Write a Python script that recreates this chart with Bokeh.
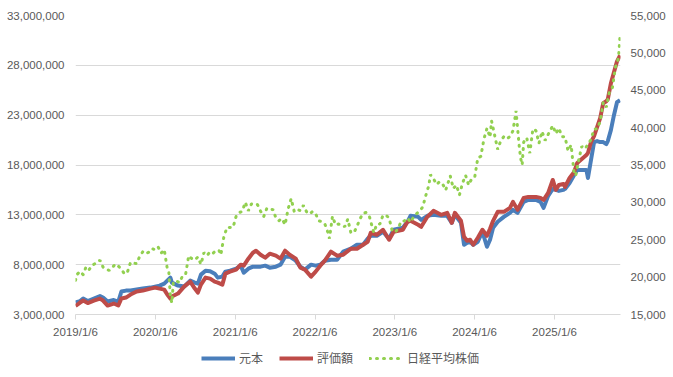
import datetime as dt
from bokeh.plotting import figure
from bokeh.layouts import column
from bokeh.models import (Range1d, LinearAxis, FixedTicker, CustomJSTickFormatter,
                          NumeralTickFormatter, Legend, LegendItem)
from bokeh.embed import file_html
from bokeh.resources import INLINE

START = dt.datetime(2019, 1, 6)

# weeks since 2019/1/6 for the two fund series
fund_weeks = [0, 3, 5, 8, 12, 16, 18, 21, 25, 28, 30, 33, 36, 40, 44, 49, 52, 55, 58, 60,
              62, 63, 67, 71, 75, 78, 80, 82, 85, 88, 91, 93, 96, 98, 101, 105, 108, 110, 113, 116,
              118, 121, 124, 127, 131, 134, 137, 140, 144, 147, 150, 154, 157, 160, 163, 167, 171, 175, 180, 184,
              188, 191, 193, 197, 201, 205, 208, 214, 217, 219, 224, 226, 230, 234, 239, 243, 246, 248, 252, 254,
              256, 258, 260, 263, 266, 269, 271, 273, 276, 280, 284, 286, 289, 293, 296, 301, 304, 306, 309, 312,
              314, 316, 319, 320, 323, 326, 328, 331, 334, 335, 337, 339, 341, 343, 345, 347, 348, 350, 352, 354,
              356]
principal_m = [4.2, 4.35, 4.6, 4.35, 4.6, 4.85, 4.7, 4.3, 4.45, 4.3, 5.3, 5.4, 5.4, 5.5, 5.6, 5.7, 5.8, 5.9, 6.1, 6.4,
               6.7, 6.2, 5.9, 5.8, 6.4, 6.2, 6.1, 7.0, 7.4, 7.35, 7.1, 6.7, 6.8, 7.3, 7.4, 7.6, 7.9, 7.2, 7.6, 7.8,
               7.8, 7.8, 7.9, 7.7, 7.8, 8.0, 8.8, 8.8, 8.4, 7.8, 7.5, 8.0, 7.9, 8.0, 8.4, 8.5, 8.5, 9.3, 9.6, 10.0,
               10.0, 10.6, 10.9, 10.9, 11.3, 10.6, 11.5, 11.7, 12.3, 12.9, 12.8, 12.5, 12.9, 13.0, 12.9, 12.9, 12.2, 13.0, 12.2, 10.0,
               10.2, 10.3, 10.0, 10.3, 11.3, 9.8, 10.5, 11.7, 12.3, 12.8, 13.2, 13.5, 13.2, 14.3, 14.5, 14.5, 14.3, 13.7, 14.9, 15.6,
               15.5, 15.4, 15.5, 15.6, 16.2, 17.0, 17.5, 17.5, 17.5, 16.7, 18.5, 20.3, 20.4, 20.3, 20.3, 20.1, 20.4, 21.5, 23.0, 24.3,
               24.5]
valuation_m = [3.85, 4.2, 4.4, 4.15, 4.4, 4.6, 4.4, 3.9, 4.1, 3.9, 4.6, 4.7, 5.0, 5.3, 5.4, 5.6, 5.7, 5.6, 5.5, 5.0,
               4.6, 4.8, 5.1, 5.8, 6.3, 5.6, 5.2, 6.0, 6.7, 6.6, 6.3, 6.2, 6.0, 7.1, 7.3, 7.5, 8.0, 7.9, 8.6, 9.2,
               9.4, 9.0, 8.7, 9.1, 8.9, 8.6, 9.4, 9.0, 8.6, 7.7, 7.5, 6.8, 7.3, 7.9, 8.4, 9.3, 8.9, 9.0, 9.6, 9.6,
               10.0, 10.3, 11.2, 11.0, 11.5, 10.5, 11.3, 11.5, 12.3, 12.4, 12.0, 11.8, 12.8, 13.4, 13.0, 13.2, 12.2, 13.2, 12.4, 10.8,
               10.4, 10.5, 10.0, 10.7, 11.5, 10.9, 11.6, 12.4, 13.3, 13.3, 13.7, 14.3, 13.5, 14.7, 14.8, 14.8, 14.7, 14.5, 15.2, 16.5,
               15.5, 16.0, 16.1, 15.8, 16.7, 17.3, 18.2, 18.6, 19.0, 19.2, 20.3, 20.9, 21.8, 22.7, 24.2, 24.4, 24.6, 26.2, 27.3, 28.4,
               29.0]

nikkei_weeks = [0, 1, 3, 5, 7, 9, 11, 13, 16, 18, 20, 22, 24, 26, 28, 30, 32, 34, 36, 38,
                40, 42, 44, 46, 48, 50, 52, 54, 56, 58, 60, 61, 62, 63, 64, 66, 68, 70, 72, 74,
                76, 78, 80, 82, 84, 86, 88, 90, 92, 94, 95, 97, 99, 101, 103, 105, 107, 109, 111, 113,
                115, 117, 119, 121, 123, 125, 127, 129, 131, 133, 135, 137, 139, 141, 143, 145, 147, 149, 151, 153,
                155, 157, 159, 161, 163, 165, 166, 168, 170, 172, 174, 176, 178, 180, 182, 184, 186, 188, 190, 192,
                195, 197, 199, 201, 203, 205, 207, 209, 211, 213, 215, 217, 219, 221, 223, 225, 227, 229, 231, 232,
                234, 236, 238, 240, 242, 245, 247, 249, 251, 253, 255, 257, 259, 261, 263, 265, 267, 269, 271, 272,
                274, 276, 278, 280, 282, 284, 286, 288, 290, 291, 292, 293, 295, 297, 299, 301, 303, 305, 307, 309,
                312, 314, 316, 318, 320, 322, 324, 326, 327, 329, 331, 333, 335, 337, 339, 341, 343, 345, 347, 349,
                351, 353, 355, 356]
nikkei = [19561, 20359, 20773, 20333, 21425, 21025, 21627, 21807, 22258, 21344, 21117, 20884, 21258, 21746, 21466, 21087, 20418, 20704, 21988, 21879,
          21798, 22800, 23391, 23113, 23354, 23816, 23656, 24041, 23205, 23688, 21142, 20749, 17431, 16552, 19389, 19498, 19262, 20179, 20388, 22863,
          22478, 22306, 22696, 21710, 23289, 22882, 23406, 23205, 23620, 23517, 22977, 25385, 26644, 26652, 26656, 28139, 28631, 28779, 30018, 28864,
          29792, 29854, 29683, 28813, 28084, 29149, 28948, 29066, 27940, 27548, 27820, 27013, 29128, 30500, 28771, 29068, 28892, 29609, 28751, 28437,
          28782, 28478, 27522, 27439, 27122, 25985, 25162, 28149, 26985, 27105, 27003, 26739, 27761, 25963, 25935, 26788, 27801, 28546, 28641, 28214,
          25937, 27090, 27105, 28263, 28283, 27901, 26235, 25973, 26553, 27509, 27513, 27927, 27333, 28041, 28493, 28856, 29388, 30916, 32265, 33706,
          33189, 32391, 32759, 32473, 31624, 33533, 31857, 32315, 30991, 32568, 33625, 32307, 33169, 33377, 35963, 36158, 38487, 39910, 38707, 40888,
          38992, 37068, 38236, 38787, 38487, 38814, 39583, 42224, 37667, 35909, 35025, 38062, 38647, 36581, 39829, 39605, 37913, 39500, 38283, 39091,
          40281, 39190, 39931, 38787, 38776, 36887, 37677, 33781, 33586, 35705, 37503, 37160, 37741, 38403, 39811, 39819, 40800, 43378, 42718, 44768,
          45354, 48088, 49299, 52411]

series_names = ["元本", "評価額", "日経平均株価"]

left_ticks = [3000000, 8000000, 13000000, 18000000, 23000000, 28000000, 33000000]
right_ticks = [15000, 20000, 25000, 30000, 35000, 40000, 45000, 50000, 55000]
year_ticks = [dt.datetime(y, 1, 6) for y in range(2019, 2026)]

fund_dates = [START + dt.timedelta(weeks=w) for w in fund_weeks]
nikkei_dates = [START + dt.timedelta(weeks=w) for w in nikkei_weeks]
principal = [v * 1e6 for v in principal_m]
valuation = [v * 1e6 for v in valuation_m]

def ms(d):
    return (d - dt.datetime(1970, 1, 1)).total_seconds() * 1000.0

FONT = "Liberation Sans"
GRAY = "#595959"
GRID = "#D9D9D9"
BLUE = "#4A7EBB"
RED = "#BE4B48"
GREEN = "#92D050"

p = figure(frame_width=545, frame_height=299, x_axis_type="datetime",
           x_range=Range1d(START, nikkei_dates[-1] + dt.timedelta(days=2)),
           y_range=Range1d(3000000, 33000000),
           output_backend="svg", toolbar_location=None,
           min_border_left=75, min_border_right=50, min_border_top=15, min_border_bottom=0)
p.outline_line_color = None
p.background_fill_color = "white"
p.border_fill_color = "white"
p.extra_y_ranges = {"nk": Range1d(15000, 55000)}

p.xgrid.grid_line_color = None
p.ygrid.grid_line_color = GRID
p.ygrid.grid_line_width = 1

# bottom axis
xa = p.xaxis[0]
xa.axis_label = None
xa.ticker = FixedTicker(ticks=[ms(d) for d in year_ticks])
xa.formatter = CustomJSTickFormatter(code="""
const d = new Date(tick);
return d.getUTCFullYear() + "/" + (d.getUTCMonth() + 1) + "/" + d.getUTCDate();
""")
xa.axis_line_color = GRID
xa.major_tick_line_color = GRID
xa.major_tick_out = 5
xa.major_tick_in = 0
xa.minor_tick_line_color = None
xa.major_label_standoff = 6
xa.major_label_text_font = FONT
xa.major_label_text_font_size = "11.5px"
xa.major_label_text_color = GRAY

# left axis
ya = p.yaxis[0]
ya.axis_label = None
ya.ticker = FixedTicker(ticks=left_ticks)
ya.formatter = NumeralTickFormatter(format="0,0")
ya.axis_line_color = None
ya.major_tick_line_color = None
ya.minor_tick_line_color = None
ya.major_tick_out = 0
ya.major_tick_in = 0
ya.major_label_standoff = 11
ya.major_label_text_font = FONT
ya.major_label_text_font_size = "11.5px"
ya.major_label_text_color = GRAY

# right axis
ra = LinearAxis(y_range_name="nk", ticker=FixedTicker(ticks=right_ticks),
                formatter=NumeralTickFormatter(format="0,0"))
ra.axis_line_color = None
ra.major_tick_line_color = None
ra.minor_tick_line_color = None
ra.major_tick_out = 0
ra.major_tick_in = 0
ra.major_label_standoff = 10
ra.major_label_text_font = FONT
ra.major_label_text_font_size = "11.5px"
ra.major_label_text_color = GRAY
p.add_layout(ra, "right")

p.line(fund_dates, principal, line_color=BLUE, line_width=4, line_join="round")
p.line(fund_dates, valuation, line_color=RED, line_width=4, line_join="round")
p.line(nikkei_dates, nikkei, y_range_name="nk", line_color=GREEN, line_width=3,
       line_dash="1 6", line_cap="round")

# legend strip below the chart (its own small figure so the legend is not clipped)
lg = figure(width=670, height=38, x_range=Range1d(0, 1), y_range=Range1d(0, 1),
            x_axis_location=None, y_axis_location=None,
            output_backend="svg", toolbar_location=None,
            min_border_left=0, min_border_right=0, min_border_top=0, min_border_bottom=0)
lg.outline_line_color = None
lg.xgrid.grid_line_color = None
lg.ygrid.grid_line_color = None
lg.border_fill_color = "white"
# key renderers sit outside the visible range; only their legend swatches show
k1 = lg.line([5, 6], [5, 6], line_color=BLUE, line_width=4)
k2 = lg.line([5, 6], [5, 6], line_color=RED, line_width=4)
k3 = lg.line([5, 6], [5, 6], line_color=GREEN, line_width=3, line_dash="1 6", line_cap="round")

legend = Legend(items=[LegendItem(label=series_names[0], renderers=[k1]),
                       LegendItem(label=series_names[1], renderers=[k2]),
                       LegendItem(label=series_names[2], renderers=[k3])],
                orientation="horizontal", location=(126, 12))
legend.border_line_color = None
legend.background_fill_alpha = 0
legend.label_text_font = "Noto Sans CJK JP"
legend.label_text_font_size = "12px"
legend.label_text_color = GRAY
legend.label_height = 14
legend.glyph_width = 34
legend.glyph_height = 14
legend.label_standoff = 4
legend.spacing = 16
legend.padding = 0
legend.margin = 0
lg.add_layout(legend, "center")

layout = column(p, lg, spacing=0)
open("out.html", "w").write(file_html(layout, INLINE))
